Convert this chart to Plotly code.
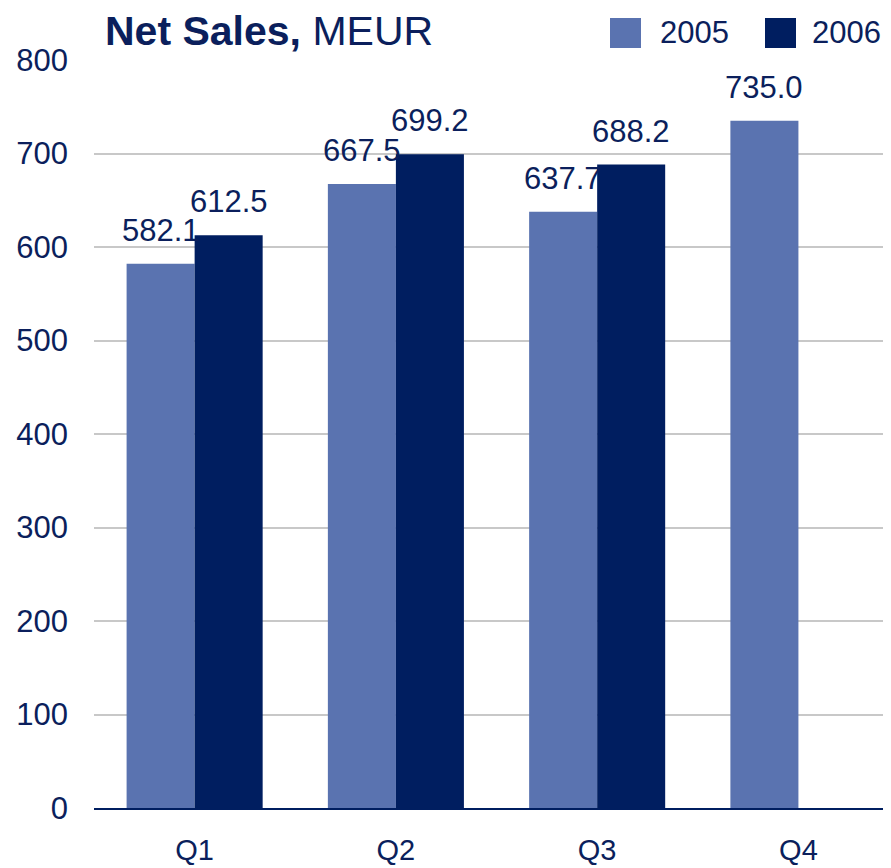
import plotly.graph_objects as go

QUARTERS = ['Q1', 'Q2', 'Q3', 'Q4']
SALES_2005 = [582.1, 667.5, 637.7, 735.0]
SALES_2006 = [612.5, 699.2, 688.2, None]
SERIES_NAMES = ['2005', '2006']

LIGHT = '#5A73B0'
DARK = '#001E60'
TEXT = '#0B1F5C'
FONT = 'Liberation Sans, Arial, sans-serif'

# the page body has an 8px margin, so the figure is drawn 8px smaller and
# every page pixel position below is shifted by OFF
OFF = 8
W, H = 891 - OFF, 868 - OFF
M_L, M_R, M_T, M_B = 94 - OFF, 0, 60 - OFF, 60
BARGAP = 0.324
BAR_W = (1 - BARGAP) / 2


def px_x(px):
    # page pixel -> paper x
    return (px - OFF - M_L) / (W - M_L - M_R)


def px_y(py):
    # page pixel -> paper y
    return (H - M_B - (py - OFF)) / (H - M_T - M_B)


xs = list(range(len(QUARTERS)))

fig = go.Figure()
for name, vals, color in zip(SERIES_NAMES, [SALES_2005, SALES_2006], [LIGHT, DARK]):
    fig.add_trace(go.Bar(x=xs, y=vals, name=name, marker_color=color,
                         marker_line_width=0, showlegend=False))

# value labels above bars
annotations = []
for vals, sign in zip([SALES_2005, SALES_2006], [-1, 1]):
    for i, v in zip(xs, vals):
        if v is None:
            continue
        annotations.append(dict(
            x=i + sign * BAR_W / 2, y=v, xref='x', yref='y',
            text=f'{v:.1f}', showarrow=False, yanchor='bottom', yshift=14,
            font=dict(size=31, color=TEXT, family=FONT)
        ))

# legend drawn by hand to get the large key squares
shapes = []
for name, color, x0, tx in zip(SERIES_NAMES, [LIGHT, DARK], [610, 765], [658, 810]):
    shapes.append(dict(type='rect', xref='paper', yref='paper',
                       x0=px_x(x0), x1=px_x(x0 + 31), y0=px_y(48), y1=px_y(18),
                       fillcolor=color, line_width=0))
    annotations.append(dict(x=px_x(tx), y=px_y(33), xref='paper', yref='paper',
                            text=name, showarrow=False, xanchor='left', yanchor='middle',
                            font=dict(size=31, color=TEXT, family=FONT)))

fig.update_layout(
    width=W, height=H,
    margin=dict(l=M_L, r=M_R, t=M_T, b=M_B, autoexpand=False),
    paper_bgcolor='white', plot_bgcolor='white',
    barmode='group', bargap=BARGAP, bargroupgap=0,
    font=dict(family=FONT, color=TEXT, size=31),
    title=dict(text='<b>Net Sales,</b> MEUR', xref='container', yref='container',
               x=97 / W, xanchor='left', y=1 - 23 / H, yanchor='middle',
               font=dict(size=41, color=TEXT, family=FONT)),
    shapes=shapes,
    annotations=annotations,
    xaxis=dict(
        tickvals=xs, ticktext=QUARTERS, range=[-0.5, 3.46],
        showgrid=False, zeroline=False, automargin=False,
        showline=True, linecolor=DARK, linewidth=2,
        ticks='', ticklabelstandoff=15,
        tickfont=dict(size=29, color=TEXT)
    ),
    yaxis=dict(
        range=[0, 800], dtick=100, automargin=False,
        showgrid=True, gridcolor='#C8C8C8', gridwidth=2,
        zeroline=False, showline=False, ticks='',
        ticklabelstandoff=25,
        tickfont=dict(size=31, color=TEXT)
    ),
)

fig.write_html('out.html')
